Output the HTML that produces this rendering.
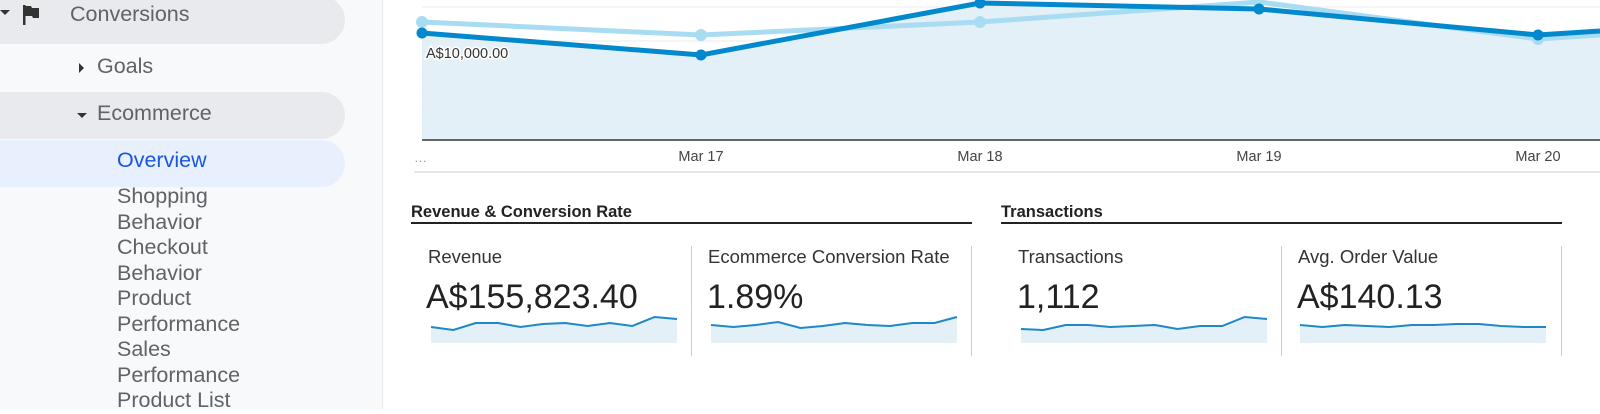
<!DOCTYPE html>
<html><head><style>
body{margin:0;width:1600px;height:409px;overflow:hidden;background:#fff;font-family:"Liberation Sans",sans-serif;position:relative}
.a{position:absolute;white-space:nowrap}
.side{position:absolute;left:0;top:0;width:382px;height:409px;background:#f8f9fa;border-right:1px solid #e8e8e8}
.pill{position:absolute;left:0;width:345px;border-radius:0 24px 24px 0}
.nav{font-size:21.5px;color:#5f6368}
.sub{font-size:21.5px;color:#5f6368;line-height:25.5px}
.h{font-size:16.5px;font-weight:bold;color:#222}
.lab{font-size:18.5px;color:#333}
.val{font-size:34px;color:#222}
.vd{position:absolute;top:246px;width:1px;height:110px;background:#ccc}
</style></head><body>
<div class="side">
<div class="pill" style="top:-4px;height:48px;background:#e8eaed"></div>
<div class="pill" style="top:92px;height:47px;background:#e8eaed"></div>
<div class="pill" style="top:140px;height:47px;background:#e8f0fe"></div>
<div class="a" style="left:0;top:10px;width:0;height:0;border-left:5px solid transparent;border-right:5px solid transparent;border-top:5px solid #333"></div>
<svg class="a" style="left:23px;top:5px" width="20" height="22"><rect x="0" y="0" width="2.5" height="20" fill="#333"/><path d="M2 1h6l1 2h7v10h-6l-1-2H2z" fill="#333"/></svg>
<div class="a nav" style="left:70px;top:2px">Conversions</div>
<div class="a" style="left:79px;top:63px;width:0;height:0;border-top:5px solid transparent;border-bottom:5px solid transparent;border-left:5px solid #333"></div>
<div class="a nav" style="left:97px;top:54px">Goals</div>
<div class="a" style="left:77px;top:113px;width:0;height:0;border-left:5px solid transparent;border-right:5px solid transparent;border-top:5px solid #333"></div>
<div class="a nav" style="left:97px;top:101px">Ecommerce</div>
<div class="a nav" style="left:117px;top:148px;color:#1a56db">Overview</div>
<div class="a sub" style="left:117px;top:184px">Shopping<br>Behavior<br>Checkout<br>Behavior<br>Product<br>Performance<br>Sales<br>Performance<br>Product List</div>
</div>
<svg class="a" style="left:0;top:0" width="1600" height="180">
<path d="M422 33L701 55L980 3L1259 9L1538 35L1600 31V139H422Z" fill="#e3f0f7"/>
<g stroke="#ebebeb" stroke-width="1"><line x1="422" y1="7" x2="1600" y2="7"/><line x1="422" y1="41" x2="1600" y2="41"/><line x1="422" y1="74" x2="1600" y2="74"/><line x1="422" y1="91" x2="1600" y2="91"/><line x1="422" y1="109" x2="1600" y2="109"/></g>
<line x1="422" y1="140" x2="1600" y2="140" stroke="#333" stroke-width="1.5"/>
<line x1="414" y1="172" x2="1600" y2="172" stroke="#ddd" stroke-width="1.5"/>
<polyline points="422,22 701,35 980,22 1259,2 1538,39 1600,35" fill="none" stroke="#a8dcf2" stroke-width="5"/>
<g fill="#a8dcf2"><circle cx="422" cy="22" r="6"/><circle cx="701" cy="35" r="6"/><circle cx="980" cy="22" r="6"/><circle cx="1259" cy="2" r="6"/><circle cx="1538" cy="39" r="6"/></g>
<polyline points="422,33 701,55 980,3 1259,9 1538,35 1600,31" fill="none" stroke="#0288cc" stroke-width="5"/>
<g fill="#0288cc"><circle cx="422" cy="33" r="5.5"/><circle cx="701" cy="55" r="5.5"/><circle cx="980" cy="3" r="5.5"/><circle cx="1259" cy="9" r="5.5"/><circle cx="1538" cy="35" r="5.5"/></g>
<text x="426" y="58" font-size="14.5" fill="#333" stroke="#fff" stroke-width="3" paint-order="stroke" font-family="Liberation Sans">A$10,000.00</text>
<g font-size="14.5" fill="#444" font-family="Liberation Sans" text-anchor="middle"><text x="701" y="161">Mar 17</text><text x="980" y="161">Mar 18</text><text x="1259" y="161">Mar 19</text><text x="1538" y="161">Mar 20</text></g>
<text x="414" y="162" font-size="13" fill="#999" font-family="Liberation Sans">…</text>
</svg>
<div class="a h" style="left:411px;top:203px">Revenue &amp; Conversion Rate</div>
<div class="a" style="left:411px;top:222px;width:561px;height:2px;background:#222"></div>
<div class="a h" style="left:1001px;top:203px">Transactions</div>
<div class="a" style="left:1001px;top:222px;width:561px;height:2px;background:#222"></div>
<div class="vd" style="left:691px"></div><div class="vd" style="left:971px"></div><div class="vd" style="left:1281px"></div><div class="vd" style="left:1561px"></div>
<div class="a lab" style="left:428px;top:246px">Revenue</div>
<div class="a val" style="left:426px;top:278px">A$155,823.40</div>
<div class="a lab" style="left:708px;top:246px">Ecommerce Conversion Rate</div>
<div class="a val" style="left:707px;top:278px">1.89%</div>
<div class="a lab" style="left:1018px;top:246px">Transactions</div>
<div class="a val" style="left:1017px;top:278px">1,112</div>
<div class="a lab" style="left:1298px;top:246px">Avg. Order Value</div>
<div class="a val" style="left:1297px;top:278px">A$140.13</div>
<svg class="a" style="left:0;top:300px" width="1600" height="50">
<g transform="translate(431,0) scale(1.118,1) translate(-431,0)">
<path d="M431 27L451 30L471 23L491 23L511 27L531 24L551 23L571 26L591 23L611 26L631 17L651 19V43H431Z" fill="#e3f0f7"/>
<polyline points="431,27 451,30 471,23 491,23 511,27 531,24 551,23 571,26 591,23 611,26 631,17 651,19" fill="none" stroke="#1e88c8" stroke-width="2"/></g>
<g transform="translate(711,0) scale(1.118,1) translate(-711,0)">
<path d="M711 25L731 27L751 25L771 22L791 28L811 26L831 23L851 25L871 26L891 23L911 23L931 17V43H711Z" fill="#e3f0f7"/>
<polyline points="711,25 731,27 751,25 771,22 791,28 811,26 831,23 851,25 871,26 891,23 911,23 931,17" fill="none" stroke="#1e88c8" stroke-width="2"/></g>
<g transform="translate(1021,0) scale(1.118,1) translate(-1021,0)">
<path d="M1021 29L1041 30L1061 25L1081 25L1101 27L1121 26L1141 25L1161 29L1181 26L1201 26L1221 17L1241 19V43H1021Z" fill="#e3f0f7"/>
<polyline points="1021,29 1041,30 1061,25 1081,25 1101,27 1121,26 1141,25 1161,29 1181,26 1201,26 1221,17 1241,19" fill="none" stroke="#1e88c8" stroke-width="2"/></g>
<g transform="translate(1300,0) scale(1.118,1) translate(-1300,0)">
<path d="M1300 25L1320 27L1340 25L1360 26L1380 27L1400 25L1420 25L1440 24L1460 24L1480 26L1500 27L1520 27V43H1300Z" fill="#e3f0f7"/>
<polyline points="1300,25 1320,27 1340,25 1360,26 1380,27 1400,25 1420,25 1440,24 1460,24 1480,26 1500,27 1520,27" fill="none" stroke="#1e88c8" stroke-width="2"/></g>
</svg>
</body></html>
